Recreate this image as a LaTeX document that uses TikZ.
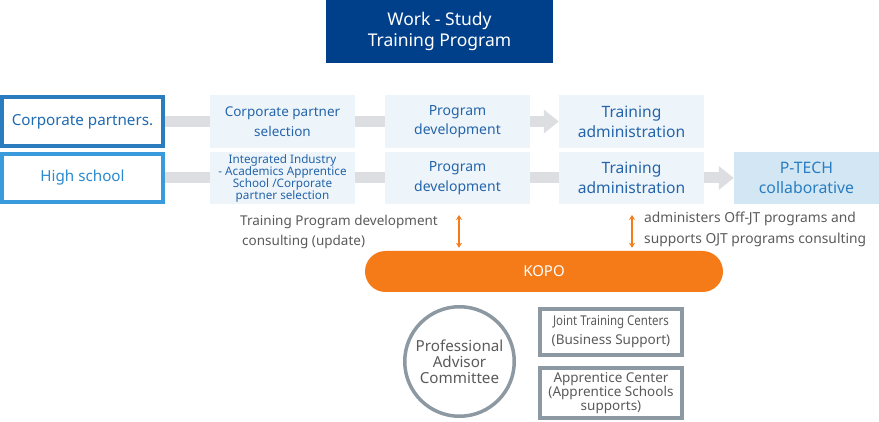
\documentclass[tikz,border=0pt]{standalone}
\usepackage{fontspec}
\setmainfont{Noto Sans}
\usepackage{graphicx}
\usetikzlibrary{arrows.meta,backgrounds}
\definecolor{titleblue}{HTML}{00408A}
\definecolor{cpborder}{HTML}{2B7BBF}
\definecolor{cptext}{HTML}{1F6BB2}
\definecolor{hsborder}{HTML}{3A9BDC}
\definecolor{hstext}{HTML}{2A8AD0}
\definecolor{lightfill}{HTML}{EEF5FA}
\definecolor{boxtext}{HTML}{2464AA}
\definecolor{ptfill}{HTML}{D2E7F3}
\definecolor{pttext}{HTML}{2A7DC0}
\definecolor{barcol}{HTML}{DCDEE1}
\definecolor{graytext}{HTML}{5A5A5A}
\definecolor{orangec}{HTML}{F57A18}
\definecolor{grayborder}{HTML}{8C98A2}
\begin{document}
\begin{tikzpicture}[x=1pt,y=-1pt,
  lbox/.style={fill=lightfill, draw=none, minimum width=145pt, minimum height=53pt,
    inner sep=0pt, align=center, text=boxtext, font=\fontsize{14}{19.5}\selectfont},
  sidebox/.style={fill=white, line width=4pt, minimum width=161pt, minimum height=49pt,
    inner sep=0pt, align=center, font=\fontsize{15.2}{18}\selectfont},
  graybox/.style={fill=white, draw=grayborder, line width=4pt, minimum width=142pt,
    inner sep=0pt, align=center, text=graytext},
  bar/.style={draw=barcol, line width=11pt},
  bararrow/.style={bar, -{Triangle[length=15pt,width=23pt]}},
  oarr/.style={draw=orangec, line width=1.4pt, {Stealth[length=5pt,width=6pt]}-{Stealth[length=5pt,width=6pt]}},
  note/.style={text=graytext, align=left, inner sep=0pt, anchor=west}]
\useasboundingbox (0,0) rectangle (879,422);

% title
\node[fill=titleblue, text=white, minimum width=227pt, minimum height=63pt, inner sep=0pt,
  align=center, font=\fontsize{17.5}{21}\selectfont] (title) at (439.5,31.5)
  {Work - Study\\Training Program};

% row 1
\node[sidebox, draw=cpborder, text=cptext] (cp) at (82.5,121.5) {Corporate partners.};
\node[lbox, font=\fontsize{13.5}{19.5}\selectfont] (cps) at (282.5,121.5) {Corporate partner\\selection};
\node[lbox] (pd1) at (457.5,121.5) {Program\\development};
\node[lbox, font=\fontsize{15.6}{20}\selectfont] (ta1) at (631.5,121.5) {Training\\administration};

% row 2
\node[sidebox, draw=hsborder, text=hstext, minimum height=48pt] (hs) at (82.5,178) {High school};
\node[lbox, minimum height=52pt, font=\fontsize{11.7}{12}\selectfont] (ips) at (282.5,178)
  {Integrated Industry\\- Academics Apprentice\\School /Corporate\\partner selection};
\node[lbox, minimum height=52pt] (pd2) at (457.5,178) {Program\\development};
\node[lbox, minimum height=52pt, font=\fontsize{15.6}{20}\selectfont] (ta2) at (631.5,178) {Training\\administration};
\node[lbox, minimum height=52pt, fill=ptfill, text=pttext, font=\fontsize{15.8}{20}\selectfont] (pt) at (806.5,178)
  {P-TECH\\collaborative};

% bars
\begin{scope}[on background layer]
\draw[bar] (cp.east) -- (cps.west);
\draw[bar] (cps.east) -- (pd1.west);
\draw[bararrow] (pd1.east) -- (ta1.west);
\draw[bar] (hs.east) -- (ips.west);
\draw[bar] (ips.east) -- (pd2.west);
\draw[bar] (pd2.east) -- (ta2.west);
\draw[bararrow] (ta2.east) -- (pt.west);
\end{scope}

% KOPO
\node[fill=orangec, rounded corners=20.5pt, minimum width=358pt, minimum height=41pt,
  inner sep=0pt, text=white, font=\fontsize{15}{16}\selectfont] (kopo) at (544,271.5) {KOPO};

% notes
\node[note, font=\fontsize{13.5}{20}\selectfont] (nl) at (240,232)
  {Training Program development\\\hspace{2pt}consulting (update)};
\node[note, font=\fontsize{13.8}{21}\selectfont] (nr) at (644,229.5)
  {administers Off-JT programs and\\supports OJT programs consulting};

% orange arrows
\coordinate (o1) at (459,215);
\coordinate (o2) at (632,215);
\draw[oarr, shorten >=3pt] (o1) -- (o1 |- kopo.north);
\draw[oarr, shorten >=3pt] (o2) -- (o2 |- kopo.north);

% bottom
\node[circle, draw=grayborder, line width=3.5pt, minimum size=109.5pt, inner sep=0pt,
  align=center, text=graytext, font=\fontsize{15.2}{16}\selectfont] (pac) at (459.5,361.5)
  {Professional\\Advisor\\Committee};
\node[graybox, minimum height=46pt, font=\fontsize{13.5}{19}\selectfont] (jtc) at (611,332)
  {\scalebox{0.85}[1]{Joint Training Centers}\\(Business Support)};
\node[graybox, minimum height=50pt, font=\fontsize{13.5}{14}\selectfont] (apc) at (611,393)
  {Apprentice Center\\(Apprentice Schools\\supports)};
\end{tikzpicture}
\end{document}
